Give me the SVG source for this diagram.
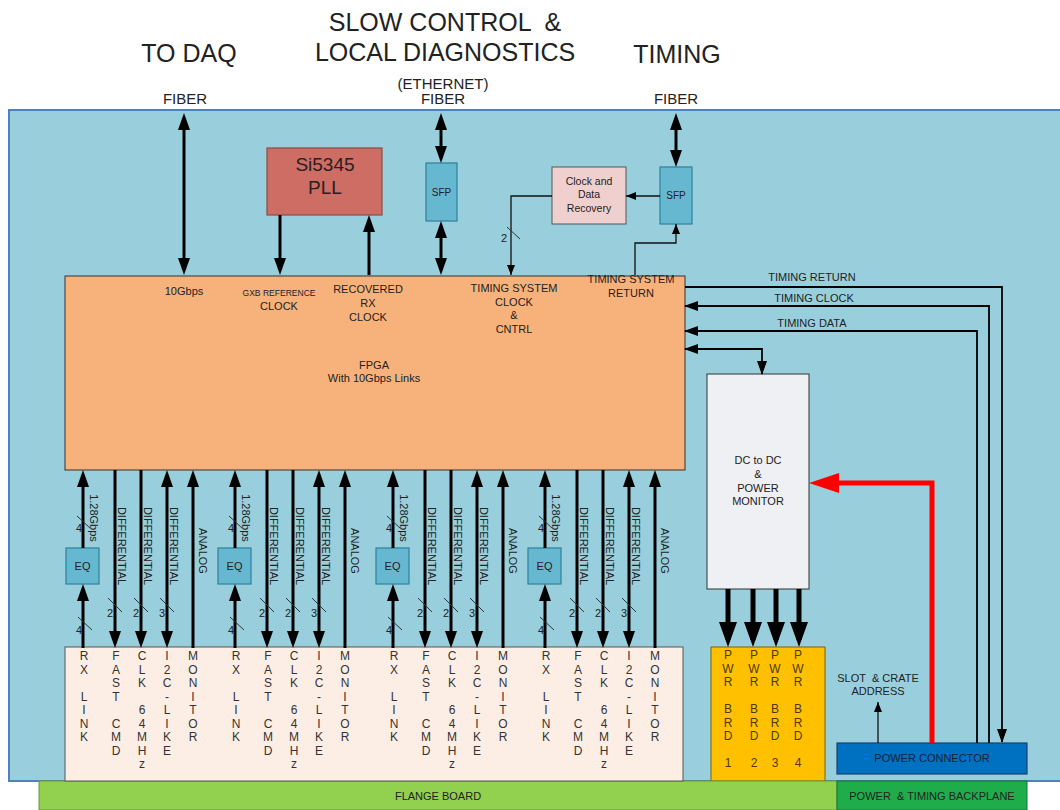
<svg xmlns="http://www.w3.org/2000/svg" width="1060" height="810" viewBox="0 0 1060 810">
<style>
text{font-family:"Liberation Sans",Arial,sans-serif;fill:#222}
.s11{font-size:11px}.s12{font-size:12px}.c{text-anchor:middle}.e{text-anchor:end}
.ln{stroke:#000;stroke-width:3;fill:none}
.thin{stroke:#111;stroke-width:1.3;fill:none}
.tl{stroke:#000;stroke-width:1.8;fill:none}
.sl{stroke:#333;stroke-width:1;fill:none}
.eq{fill:#66b8d1;stroke:#2f7f99;stroke-width:1.2}
.fl{font-size:12px;text-anchor:middle;fill:#333}
.pw{font-size:12px;text-anchor:middle;fill:#4d3a00}
</style>
<defs>
<marker id="a" markerUnits="userSpaceOnUse" markerWidth="17" markerHeight="12" refX="12" refY="6" orient="auto-start-reverse"><path d="M0,0L17,6L0,12z" fill="#000"/></marker>
<marker id="as" markerUnits="userSpaceOnUse" markerWidth="10" markerHeight="8" refX="10" refY="4" orient="auto-start-reverse"><path d="M0,0L10,4L0,8z" fill="#000"/></marker>
<marker id="at" markerUnits="userSpaceOnUse" markerWidth="14" markerHeight="10" refX="13" refY="5" orient="auto-start-reverse"><path d="M0,0L14,5L0,10z" fill="#000"/></marker>
<marker id="ar" markerUnits="userSpaceOnUse" markerWidth="30" markerHeight="20" refX="20" refY="10" orient="auto"><path d="M0,0L30,10L0,20z" fill="#ff0000"/></marker>
</defs>

<g id="board"><rect x="9" y="110" width="1060" height="671" fill="#99cfdc" stroke="#4f81bd" stroke-width="2"/></g>

<g id="titles">
<text x="189" y="62" class="c" font-size="25">TO DAQ</text>
<text x="445" y="31" class="c" font-size="25" xml:space="preserve">SLOW CONTROL  &amp;</text>
<text x="445" y="61" class="c" font-size="25">LOCAL DIAGNOSTICS</text>
<text x="677" y="63" class="c" font-size="25">TIMING</text>
<text x="185" y="104" class="c" font-size="15">FIBER</text>
<text x="443" y="89" class="c" font-size="15">(ETHERNET)</text>
<text x="443" y="104" class="c" font-size="15">FIBER</text>
<text x="676" y="104" class="c" font-size="15">FIBER</text>
</g>

<g id="fpga">
<rect x="65" y="276" width="620" height="194" fill="#f7b27b" stroke="#333" stroke-width="1"/>
<text x="184" y="295" class="s11 c">10Gbps</text>
<text x="279" y="296" class="c" font-size="9" textLength="73" lengthAdjust="spacingAndGlyphs">GXB REFERENCE</text>
<text x="279" y="310" class="s11 c">CLOCK</text>
<text x="368" y="293" class="s11 c">RECOVERED</text>
<text x="368" y="307" class="s11 c">RX</text>
<text x="368" y="321" class="s11 c">CLOCK</text>
<text x="514" y="292" class="s11 c">TIMING SYSTEM</text>
<text x="514" y="306" class="s11 c">CLOCK</text>
<text x="514" y="319" class="s11 c">&amp;</text>
<text x="514" y="333" class="s11 c">CNTRL</text>
<text x="631" y="283" class="s11 c">TIMING SYSTEM</text>
<text x="631" y="297" class="s11 c">RETURN</text>
<text x="374" y="369" class="s11 c">FPGA</text>
<text x="374" y="382" class="s11 c">With 10Gbps Links</text>
</g>

<g id="pll">
<rect x="267" y="148" width="115" height="67" fill="#cd6d64" stroke="#8e4b45" stroke-width="1.2"/>
<text x="325" y="171" class="c" font-size="19" style="fill:#2a2020">Si5345</text>
<text x="325" y="194" class="c" font-size="19" style="fill:#2a2020">PLL</text>
</g>

<g id="sfp-eth">
<rect class="eq" x="426" y="163" width="31" height="58"/>
<text x="441.5" y="196" class="c" font-size="10">SFP</text>
</g>

<g id="sfp-timing">
<rect class="eq" x="660" y="167" width="32" height="57"/>
<text x="676" y="199" class="c" font-size="10">SFP</text>
</g>

<g id="cdr">
<rect x="552" y="167" width="74" height="57" fill="#f0d0cf" stroke="#555" stroke-width="1"/>
<text x="589" y="185" class="c" font-size="10.5">Clock and</text>
<text x="589" y="198" class="c" font-size="10.5">Data</text>
<text x="589" y="212" class="c" font-size="10.5">Recovery</text>
</g>

<g id="dcdc">
<rect x="707" y="374" width="102" height="215" fill="#eef0f4" stroke="#333" stroke-width="1"/>
<text x="758" y="464" class="s11 c">DC to DC</text>
<text x="758" y="478" class="s11 c">&amp;</text>
<text x="758" y="492" class="s11 c">POWER</text>
<text x="758" y="505" class="s11 c">MONITOR</text>
</g>

<g id="pwr-brd">
<rect x="711" y="647" width="114" height="134" fill="#ffc000" stroke="#7f6000" stroke-width="1"/>
<text class="pw" x="728" y="659"><tspan x="728">P</tspan><tspan x="728" dy="13.5">W</tspan><tspan x="728" dy="13.5">R</tspan><tspan x="728" dy="27">B</tspan><tspan x="728" dy="13.5">R</tspan><tspan x="728" dy="13.5">D</tspan><tspan x="728" dy="27">1</tspan></text>
<text class="pw" x="754" y="659"><tspan x="754">P</tspan><tspan x="754" dy="13.5">W</tspan><tspan x="754" dy="13.5">R</tspan><tspan x="754" dy="27">B</tspan><tspan x="754" dy="13.5">R</tspan><tspan x="754" dy="13.5">D</tspan><tspan x="754" dy="27">2</tspan></text>
<text class="pw" x="775" y="659"><tspan x="775">P</tspan><tspan x="775" dy="13.5">W</tspan><tspan x="775" dy="13.5">R</tspan><tspan x="775" dy="27">B</tspan><tspan x="775" dy="13.5">R</tspan><tspan x="775" dy="13.5">D</tspan><tspan x="775" dy="27">3</tspan></text>
<text class="pw" x="798" y="659"><tspan x="798">P</tspan><tspan x="798" dy="13.5">W</tspan><tspan x="798" dy="13.5">R</tspan><tspan x="798" dy="27">B</tspan><tspan x="798" dy="13.5">R</tspan><tspan x="798" dy="13.5">D</tspan><tspan x="798" dy="27">4</tspan></text>
</g>

<g id="power-connector">
<rect x="837" y="743" width="190" height="31" fill="#0070c0" stroke="#1f3f66" stroke-width="1.2"/>
<text x="932" y="762" class="s11 c" style="fill:#13233d">POWER CONNECTOR</text>
</g>

<g id="slot-label">
<text x="878" y="682" class="s11 c" xml:space="preserve">SLOT  &amp; CRATE</text>
<text x="878" y="695" class="s11 c">ADDRESS</text>
</g>

<g id="flange-board">
<rect x="39" y="781" width="798" height="29" fill="#92d050" stroke="#6a9a3a" stroke-width="1"/>
<text x="438" y="800" class="s11 c">FLANGE BOARD</text>
</g>

<g id="backplane">
<rect x="837" y="781" width="190" height="29" fill="#1fad4b" stroke="#15733a" stroke-width="1"/>
<text x="932" y="800" class="s11 c" xml:space="preserve">POWER  &amp; TIMING BACKPLANE</text>
</g>

<g id="flange">
<rect x="65" y="647" width="618" height="134" fill="#fdeee5" stroke="#555" stroke-width="1"/>
<text class="fl" y="660"><tspan x="84">R</tspan><tspan x="84" dy="13.5">X</tspan><tspan x="84" dy="27">L</tspan><tspan x="84" dy="13.5">I</tspan><tspan x="84" dy="13.5">N</tspan><tspan x="84" dy="13.5">K</tspan></text>
<text class="fl" y="660"><tspan x="116">F</tspan><tspan x="116" dy="13.5">A</tspan><tspan x="116" dy="13.5">S</tspan><tspan x="116" dy="13.5">T</tspan><tspan x="116" dy="27">C</tspan><tspan x="116" dy="13.5">M</tspan><tspan x="116" dy="13.5">D</tspan></text>
<text class="fl" y="660"><tspan x="142">C</tspan><tspan x="142" dy="13.5">L</tspan><tspan x="142" dy="13.5">K</tspan><tspan x="142" dy="27">6</tspan><tspan x="142" dy="13.5">4</tspan><tspan x="142" dy="13.5">M</tspan><tspan x="142" dy="13.5">H</tspan><tspan x="142" dy="13.5">z</tspan></text>
<text class="fl" y="660"><tspan x="167">I</tspan><tspan x="167" dy="13.5">2</tspan><tspan x="167" dy="13.5">C</tspan><tspan x="167" dy="13.5">-</tspan><tspan x="167" dy="13.5">L</tspan><tspan x="167" dy="13.5">I</tspan><tspan x="167" dy="13.5">K</tspan><tspan x="167" dy="13.5">E</tspan></text>
<text class="fl" y="660"><tspan x="193">M</tspan><tspan x="193" dy="13.5">O</tspan><tspan x="193" dy="13.5">N</tspan><tspan x="193" dy="13.5">I</tspan><tspan x="193" dy="13.5">T</tspan><tspan x="193" dy="13.5">O</tspan><tspan x="193" dy="13.5">R</tspan></text>

<text class="fl" y="660"><tspan x="236">R</tspan><tspan x="236" dy="13.5">X</tspan><tspan x="236" dy="27">L</tspan><tspan x="236" dy="13.5">I</tspan><tspan x="236" dy="13.5">N</tspan><tspan x="236" dy="13.5">K</tspan></text>
<text class="fl" y="660"><tspan x="268">F</tspan><tspan x="268" dy="13.5">A</tspan><tspan x="268" dy="13.5">S</tspan><tspan x="268" dy="13.5">T</tspan><tspan x="268" dy="27">C</tspan><tspan x="268" dy="13.5">M</tspan><tspan x="268" dy="13.5">D</tspan></text>
<text class="fl" y="660"><tspan x="294">C</tspan><tspan x="294" dy="13.5">L</tspan><tspan x="294" dy="13.5">K</tspan><tspan x="294" dy="27">6</tspan><tspan x="294" dy="13.5">4</tspan><tspan x="294" dy="13.5">M</tspan><tspan x="294" dy="13.5">H</tspan><tspan x="294" dy="13.5">z</tspan></text>
<text class="fl" y="660"><tspan x="319">I</tspan><tspan x="319" dy="13.5">2</tspan><tspan x="319" dy="13.5">C</tspan><tspan x="319" dy="13.5">-</tspan><tspan x="319" dy="13.5">L</tspan><tspan x="319" dy="13.5">I</tspan><tspan x="319" dy="13.5">K</tspan><tspan x="319" dy="13.5">E</tspan></text>
<text class="fl" y="660"><tspan x="345">M</tspan><tspan x="345" dy="13.5">O</tspan><tspan x="345" dy="13.5">N</tspan><tspan x="345" dy="13.5">I</tspan><tspan x="345" dy="13.5">T</tspan><tspan x="345" dy="13.5">O</tspan><tspan x="345" dy="13.5">R</tspan></text>

<text class="fl" y="660"><tspan x="394">R</tspan><tspan x="394" dy="13.5">X</tspan><tspan x="394" dy="27">L</tspan><tspan x="394" dy="13.5">I</tspan><tspan x="394" dy="13.5">N</tspan><tspan x="394" dy="13.5">K</tspan></text>
<text class="fl" y="660"><tspan x="426">F</tspan><tspan x="426" dy="13.5">A</tspan><tspan x="426" dy="13.5">S</tspan><tspan x="426" dy="13.5">T</tspan><tspan x="426" dy="27">C</tspan><tspan x="426" dy="13.5">M</tspan><tspan x="426" dy="13.5">D</tspan></text>
<text class="fl" y="660"><tspan x="452">C</tspan><tspan x="452" dy="13.5">L</tspan><tspan x="452" dy="13.5">K</tspan><tspan x="452" dy="27">6</tspan><tspan x="452" dy="13.5">4</tspan><tspan x="452" dy="13.5">M</tspan><tspan x="452" dy="13.5">H</tspan><tspan x="452" dy="13.5">z</tspan></text>
<text class="fl" y="660"><tspan x="477">I</tspan><tspan x="477" dy="13.5">2</tspan><tspan x="477" dy="13.5">C</tspan><tspan x="477" dy="13.5">-</tspan><tspan x="477" dy="13.5">L</tspan><tspan x="477" dy="13.5">I</tspan><tspan x="477" dy="13.5">K</tspan><tspan x="477" dy="13.5">E</tspan></text>
<text class="fl" y="660"><tspan x="503">M</tspan><tspan x="503" dy="13.5">O</tspan><tspan x="503" dy="13.5">N</tspan><tspan x="503" dy="13.5">I</tspan><tspan x="503" dy="13.5">T</tspan><tspan x="503" dy="13.5">O</tspan><tspan x="503" dy="13.5">R</tspan></text>

<text class="fl" y="660"><tspan x="546">R</tspan><tspan x="546" dy="13.5">X</tspan><tspan x="546" dy="27">L</tspan><tspan x="546" dy="13.5">I</tspan><tspan x="546" dy="13.5">N</tspan><tspan x="546" dy="13.5">K</tspan></text>
<text class="fl" y="660"><tspan x="578">F</tspan><tspan x="578" dy="13.5">A</tspan><tspan x="578" dy="13.5">S</tspan><tspan x="578" dy="13.5">T</tspan><tspan x="578" dy="27">C</tspan><tspan x="578" dy="13.5">M</tspan><tspan x="578" dy="13.5">D</tspan></text>
<text class="fl" y="660"><tspan x="604">C</tspan><tspan x="604" dy="13.5">L</tspan><tspan x="604" dy="13.5">K</tspan><tspan x="604" dy="27">6</tspan><tspan x="604" dy="13.5">4</tspan><tspan x="604" dy="13.5">M</tspan><tspan x="604" dy="13.5">H</tspan><tspan x="604" dy="13.5">z</tspan></text>
<text class="fl" y="660"><tspan x="629">I</tspan><tspan x="629" dy="13.5">2</tspan><tspan x="629" dy="13.5">C</tspan><tspan x="629" dy="13.5">-</tspan><tspan x="629" dy="13.5">L</tspan><tspan x="629" dy="13.5">I</tspan><tspan x="629" dy="13.5">K</tspan><tspan x="629" dy="13.5">E</tspan></text>
<text class="fl" y="660"><tspan x="655">M</tspan><tspan x="655" dy="13.5">O</tspan><tspan x="655" dy="13.5">N</tspan><tspan x="655" dy="13.5">I</tspan><tspan x="655" dy="13.5">T</tspan><tspan x="655" dy="13.5">O</tspan><tspan x="655" dy="13.5">R</tspan></text>
</g>

<g id="eq1"><rect class="eq" x="66" y="548" width="33" height="36"/><text x="82.5" y="570" class="s11 c">EQ</text></g>
<g id="eq2"><rect class="eq" x="218" y="548" width="33" height="36"/><text x="234.5" y="570" class="s11 c">EQ</text></g>
<g id="eq3"><rect class="eq" x="376" y="548" width="33" height="36"/><text x="392.5" y="570" class="s11 c">EQ</text></g>
<g id="eq4"><rect class="eq" x="528" y="548" width="33" height="36"/><text x="544.5" y="570" class="s11 c">EQ</text></g>

<g id="connectors">
<path class="ln" d="M184,118V270" marker-start="url(#a)" marker-end="url(#a)"/>
<path class="ln" d="M441,118V158" marker-start="url(#a)" marker-end="url(#a)"/>
<path class="ln" d="M441,226V270" marker-start="url(#a)" marker-end="url(#a)"/>
<path class="ln" d="M676,118V162" marker-start="url(#a)" marker-end="url(#a)"/>
<path class="ln" d="M280,215V270" marker-end="url(#a)"/>
<path class="ln" d="M369,275V220" marker-end="url(#a)"/>
<path class="thin" d="M660,196H626" marker-end="url(#as)"/>
<path class="thin" d="M552,196H511V275" marker-end="url(#as)"/>
<path class="sl" d="M507,227L520,239"/>
<text x="507" y="242" class="s11 e">2</text>
<path class="thin" d="M635,275V243H676V224" marker-end="url(#as)"/>

<path class="tl" d="M685,287H1002V742" marker-end="url(#at)"/>
<path class="tl" d="M989,743V306H685" marker-end="url(#at)"/>
<path class="tl" d="M977,743V331H685" marker-end="url(#at)"/>
<path class="tl" d="M685,349H762V374" marker-start="url(#at)" marker-end="url(#at)"/>
<text x="812" y="281" class="s11 c">TIMING RETURN</text>
<text x="814" y="302" class="s11 c">TIMING CLOCK</text>
<text x="812" y="327" class="s11 c">TIMING DATA</text>

<path class="thin" d="M878,743V702" marker-end="url(#as)"/>
<path d="M932,743V483H819" fill="none" stroke="#ff0000" stroke-width="5" marker-end="url(#ar)"/>
<path stroke="#000" stroke-width="5" fill="none" d="M728,589V640M753,589V640M776,589V640M799,589V640"/>
<path stroke="none" fill="#000" d="M719,622L737,622L728,647zM744,622L762,622L753,647zM767,622L785,622L776,647zM790,622L808,622L799,647z"/>

<g transform="translate(83,0)">
<path class="ln" d="M0,548V475" marker-end="url(#a)"/>
<path class="ln" d="M0,648V589" marker-end="url(#a)"/>
<path class="ln" d="M32,470V643" marker-end="url(#a)"/>
<path class="ln" d="M58,470V643" marker-end="url(#a)"/>
<path class="ln" d="M84,475V643" marker-start="url(#a)" marker-end="url(#a)"/>
<path class="ln" d="M110,648V475" marker-end="url(#a)"/>
<path class="sl" d="M-6,516L7,528M-5,617L9,630M25,598L39,612M51,598L65,612M77,598L91,612"/>
<text x="-1" y="532" class="s11 e">4</text><text x="-1" y="634" class="s11 e">4</text>
<text x="30" y="617" class="s11 e">2</text><text x="56" y="617" class="s11 e">2</text><text x="82" y="617" class="s11 e">3</text>
<text transform="translate(7,518) rotate(90)" class="s11 c">1.28Gbps</text>
<text transform="translate(35,546) rotate(90)" class="s11 c">DIFFERENTIAL</text>
<text transform="translate(61,546) rotate(90)" class="s11 c">DIFFERENTIAL</text>
<text transform="translate(87,546) rotate(90)" class="s11 c">DIFFERENTIAL</text>
<text transform="translate(116,551) rotate(90)" class="s11 c">ANALOG</text>
</g>
<g transform="translate(235,0)">
<path class="ln" d="M0,548V475" marker-end="url(#a)"/>
<path class="ln" d="M0,648V589" marker-end="url(#a)"/>
<path class="ln" d="M32,470V643" marker-end="url(#a)"/>
<path class="ln" d="M58,470V643" marker-end="url(#a)"/>
<path class="ln" d="M84,475V643" marker-start="url(#a)" marker-end="url(#a)"/>
<path class="ln" d="M110,648V475" marker-end="url(#a)"/>
<path class="sl" d="M-6,516L7,528M-5,617L9,630M25,598L39,612M51,598L65,612M77,598L91,612"/>
<text x="-1" y="532" class="s11 e">4</text><text x="-1" y="634" class="s11 e">4</text>
<text x="30" y="617" class="s11 e">2</text><text x="56" y="617" class="s11 e">2</text><text x="82" y="617" class="s11 e">3</text>
<text transform="translate(7,518) rotate(90)" class="s11 c">1.28Gbps</text>
<text transform="translate(35,546) rotate(90)" class="s11 c">DIFFERENTIAL</text>
<text transform="translate(61,546) rotate(90)" class="s11 c">DIFFERENTIAL</text>
<text transform="translate(87,546) rotate(90)" class="s11 c">DIFFERENTIAL</text>
<text transform="translate(116,551) rotate(90)" class="s11 c">ANALOG</text>
</g>
<g transform="translate(393,0)">
<path class="ln" d="M0,548V475" marker-end="url(#a)"/>
<path class="ln" d="M0,648V589" marker-end="url(#a)"/>
<path class="ln" d="M32,470V643" marker-end="url(#a)"/>
<path class="ln" d="M58,470V643" marker-end="url(#a)"/>
<path class="ln" d="M84,475V643" marker-start="url(#a)" marker-end="url(#a)"/>
<path class="ln" d="M110,648V475" marker-end="url(#a)"/>
<path class="sl" d="M-6,516L7,528M-5,617L9,630M25,598L39,612M51,598L65,612M77,598L91,612"/>
<text x="-1" y="532" class="s11 e">4</text><text x="-1" y="634" class="s11 e">4</text>
<text x="30" y="617" class="s11 e">2</text><text x="56" y="617" class="s11 e">2</text><text x="82" y="617" class="s11 e">3</text>
<text transform="translate(7,518) rotate(90)" class="s11 c">1.28Gbps</text>
<text transform="translate(35,546) rotate(90)" class="s11 c">DIFFERENTIAL</text>
<text transform="translate(61,546) rotate(90)" class="s11 c">DIFFERENTIAL</text>
<text transform="translate(87,546) rotate(90)" class="s11 c">DIFFERENTIAL</text>
<text transform="translate(116,551) rotate(90)" class="s11 c">ANALOG</text>
</g>
<g transform="translate(545,0)">
<path class="ln" d="M0,548V475" marker-end="url(#a)"/>
<path class="ln" d="M0,648V589" marker-end="url(#a)"/>
<path class="ln" d="M32,470V643" marker-end="url(#a)"/>
<path class="ln" d="M58,470V643" marker-end="url(#a)"/>
<path class="ln" d="M84,475V643" marker-start="url(#a)" marker-end="url(#a)"/>
<path class="ln" d="M110,648V475" marker-end="url(#a)"/>
<path class="sl" d="M-6,516L7,528M-5,617L9,630M25,598L39,612M51,598L65,612M77,598L91,612"/>
<text x="-1" y="532" class="s11 e">4</text><text x="-1" y="634" class="s11 e">4</text>
<text x="30" y="617" class="s11 e">2</text><text x="56" y="617" class="s11 e">2</text><text x="82" y="617" class="s11 e">3</text>
<text transform="translate(7,518) rotate(90)" class="s11 c">1.28Gbps</text>
<text transform="translate(35,546) rotate(90)" class="s11 c">DIFFERENTIAL</text>
<text transform="translate(61,546) rotate(90)" class="s11 c">DIFFERENTIAL</text>
<text transform="translate(87,546) rotate(90)" class="s11 c">DIFFERENTIAL</text>
<text transform="translate(116,551) rotate(90)" class="s11 c">ANALOG</text>
</g>
</g>
</svg>
